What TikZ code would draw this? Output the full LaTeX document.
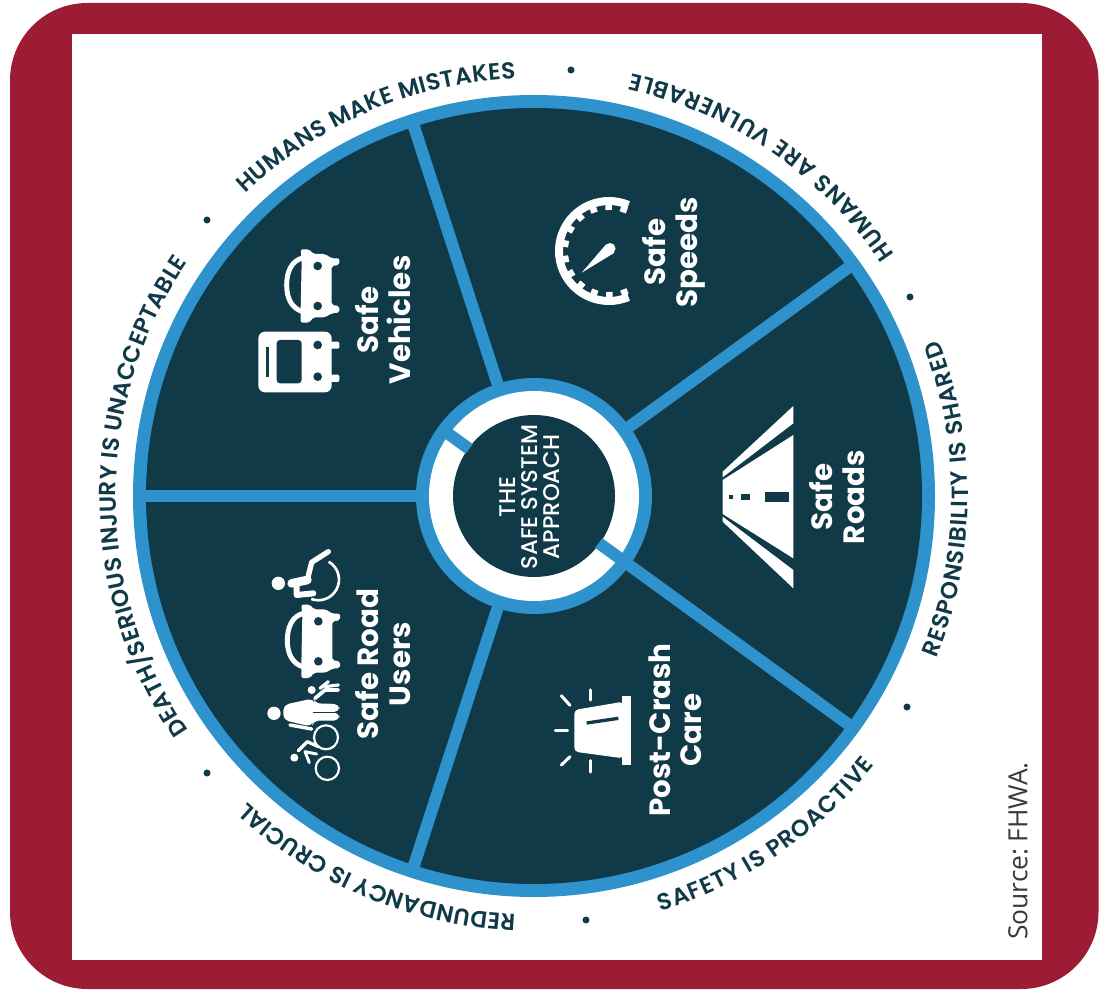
\documentclass[tikz,border=0pt]{standalone}
\usepackage{fontspec}
\setmainfont{Poppins}
\setsansfont{Poppins}
\newfontfamily\sourcefont{Open Sans}
\newfontfamily\hubfont{Poppins Medium}
\newfontfamily\ringfam{Poppins SemiBold}
\usetikzlibrary{decorations.text,calc}
\definecolor{framered}{HTML}{9C1C33}
\definecolor{deepteal}{HTML}{113A48}
\definecolor{ringblue}{HTML}{2E92CC}
\definecolor{sourcegray}{HTML}{3A3A3A}
\newcommand\ringfont{\ringfam\fontsize{17.5}{17.5}\selectfont\color{deepteal}}
\tikzset{
  spoke/.style={ringblue,line width=9pt},
  sectorlabel/.style={rotate=90,align=center,text=white,font=\fontsize{22}{23.5}\selectfont\bfseries,inner sep=0pt},
  ringdot/.style={fill=deepteal},
  holefill/.style={fill=deepteal,draw=none},
  iconline/.style={draw=white,line cap=round,line join=round},
  ringtext/.style={decorate,decoration={text along path,text align={fit to path},text={|\ringfont|#1}}}
}
\newcommand\carglyph{%
  \fill[white,rounded corners=1.5pt] (215,92)--(212,58)--(238,58)--(250,72)--(285,72)--(305,85)--(328,85)--(328,105)--(305,108)--(305,225)--(328,228)--(328,248)--(305,250)--(285,262)--(250,262)--(238,278)--(212,278)--(212,240)--cycle;
  \draw[iconline,line width=3.7pt] (218,84) .. controls (185,92) and (170,125) .. (170,165) .. controls (170,205) and (185,235) .. (218,245);
  \fill[holefill] (263,108) circle[radius=13] (263,228) circle[radius=13];
}
\begin{document}
\begin{tikzpicture}[x=0.75pt,y=0.75pt]
\useasboundingbox (0,0) rectangle (1099,1001);
\fill[white] (0,0) rectangle (1099,1001);
% frame (image y -> 1001-y)
\fill[framered,rounded corners=58pt] (10,12) rectangle (1098.5,998);
\fill[white] (72,41) rectangle (1042,967);
\coordinate (c) at (534,505);
% wheel
\fill[ringblue] (c) circle[radius=401];
\fill[deepteal] (c) circle[radius=388];
\foreach \a in {36,108,180,252,324}{
  \draw[spoke] ($(c)+(\a:110)$) -- ($(c)+(\a:392)$);
}
\fill[ringblue] (c) circle[radius=118];
\fill[white] (c) circle[radius=105];
\fill[deepteal] (c) circle[radius=81];
\foreach \a in {144,-36}{
  \draw[spoke] ($(c)+(\a:80)$) -- ($(c)+(\a:106)$);
}
\node[rotate=90,align=center,text=white,inner sep=0pt,font=\hubfont\fontsize{17}{16.5}\selectfont] (hub) at (530,504) {THE\\SAFE SYSTEM\\APPROACH};
% ring labels
\path[ringtext={HUMANS MAKE MISTAKES}] ($(c)+(133.7:418)$) arc[start angle=133.7,end angle=92.5,radius=418];
\path[ringtext={DEATH/SERIOUS INJURY IS UNACCEPTABLE}] ($(c)+(214.2:418)$) arc[start angle=214.2,end angle=146,radius=418];
\path[ringtext={REDUNDANCY IS CRUCIAL}] ($(c)+(267.5:419)$) arc[start angle=267.5,end angle=226.9,radius=419];
\path[ringtext={HUMANS ARE VULNERABLE}] ($(c)+(33.8:434)$) arc[start angle=33.8,end angle=77,radius=434];
\path[ringtext={RESPONSIBILITY IS SHARED}] ($(c)+(-22:434)$) arc[start angle=-22,end angle=21,radius=434];
\path[ringtext={SAFETY IS PROACTIVE}] ($(c)+(-73:434)$) arc[start angle=-73,end angle=-38.3,radius=434];
% separator dots
\fill[ringdot] (571,931) circle[radius=3.5];
\fill[ringdot] (910,704) circle[radius=3.5];
\fill[ringdot] (907,294) circle[radius=3.5];
\fill[ringdot] (586,81) circle[radius=3.5];
\fill[ringdot] (207,228) circle[radius=3.5];
\fill[ringdot] (207,781) circle[radius=3.5];
% sector labels
\node[sectorlabel] (speeds) at (674,749) {Safe\\Speeds};
\node[sectorlabel] (vehicles) at (383,681) {Safe\\Vehicles};
\node[sectorlabel] (users) at (383,337) {Safe Road\\Users};
\node[sectorlabel] (care) at (675,271) {Post-Crash\\Care};
\node[sectorlabel] (roads) at (837,504) {Safe\\Roads};
\node[rotate=90,anchor=west,inner sep=0pt,text=sourcegray,font=\sourcefont\fontsize{19.8}{21}\selectfont] (source) at (1018,61) {Source:\hspace{-0.12em} FHWA.};
% icons, in image pixels with y downwards
\begin{scope}[shift={(0,1001)},yscale=-1]
  % speedometer
  \coordinate (g) at (609,251);
  \draw[white,line width=6pt] ($(g)+(67:50)$) arc[start angle=67,end angle=293,radius=50];
  \foreach \t in {0,...,11}{
    \draw[white,line width=5pt] ($(g)+(69.5+\t*20:47)$) -- ($(g)+(69.5+\t*20:41)$);
  }
  \fill[white] (581.7,272.7) -- (606,244.5) -- (614,253) -- cycle;
  \fill[white] (610,248.5) circle[radius=5.5];
  % vehicles
  \begin{scope}[shift={(230,230)},scale=1/3]
    \carglyph
    \fill[white,rounded corners=5pt] (85,305) rectangle (305,487);
    \fill[white,rounded corners=1pt] (300,335) rectangle (328,356) (300,434) rectangle (328,456);
    \fill[holefill,rounded corners=2.5pt] (140,330) rectangle (215,460);
    \fill[holefill] (107,350) rectangle (118,440);
    \fill[holefill] (263,345) circle[radius=13] (263,440) circle[radius=13];
  \end{scope}
  % road users
  \begin{scope}[shift={(250,530)},scale=1/3]
    % wheelchair
    \fill[white] (85,160) circle[radius=20];
    \draw[iconline,line width=6.5pt] (125,160) -- (172,150);
    \draw[iconline,line width=4pt] (172,150) -- (185,97) -- (235,65);
    \draw[iconline,line width=4.5pt] (140,165) -- (140,195) -- (190,190);
    \draw[white,line width=2pt] (236,95) arc[start angle=-60,end angle=110,radius=62];
    % car, shifted
    \begin{scope}[shift={(-58,166)}]
      \carglyph
    \end{scope}
    \fill[holefill] (137,310) circle[radius=8];
    % adult
    \fill[white] (72,550) circle[radius=20];
    \fill[white,rounded corners=4pt] (100,525) -- (190,505) -- (195,520) -- (268,522) -- (268,546) -- (195,546) -- (268,548) -- (268,572) -- (190,572) -- (185,590) -- (100,570) -- cycle;
    \fill[holefill] (190,545) rectangle (270,549);
    \draw[iconline,line width=2.6pt] (120,585) -- (185,597);
    % child
    \fill[white] (185,480) circle[radius=12];
    \draw[iconline,line width=2.8pt] (195,505) -- (225,480) -- (265,480);
    \draw[iconline,line width=2.4pt] (210,475) -- (235,455);
    \draw[iconline,line width=2.4pt] (225,470) -- (265,465);
    % cyclist
    \draw[white,line width=1.6pt] (228,622) circle[radius=36];
    \draw[white,line width=1.6pt] (232,715) circle[radius=35];
    \fill[white] (133,683) circle[radius=12];
    \draw[iconline,line width=2.4pt] (145,662) -- (172,635) -- (205,650);
    \draw[iconline,line width=2.2pt] (178,698) -- (165,665) -- (200,672);
  \end{scope}
  % alert light
  \begin{scope}[shift={(530,630)},scale=1/3]
    \fill[white,rounded corners=3pt] (133,240) -- (280,215) -- (280,385) -- (133,365) -- cycle;
    \fill[white] (276,197) rectangle (302,405);
    \draw[deepteal,line width=2.5pt] (170,279) -- (265,265);
    \draw[iconline,line width=2.3pt] (76,302) -- (113,302);
    \draw[iconline,line width=2.3pt] (94,197) -- (120,226);
    \draw[iconline,line width=2.3pt] (182,180) -- (182,210);
    \draw[iconline,line width=2.3pt] (182,392) -- (182,426);
    \draw[iconline,line width=2.3pt] (94,405) -- (120,380);
  \end{scope}
  % road
  \begin{scope}[shift={(700,390)},scale=1/3]
    \fill[white] (68,270) -- (280,135) -- (280,505) -- (68,372) -- cycle;
    \fill[white] (68,262) -- (68,245) -- (280,48) -- (280,100) -- cycle;
    \fill[white] (68,380) -- (280,540) -- (280,595) -- (68,395) -- cycle;
    \fill[holefill] (194,306) rectangle (268,335);
    \fill[holefill] (122,311) rectangle (149,329);
    \fill[holefill] (86,315) rectangle (100,327);
  \end{scope}
\end{scope}
\end{tikzpicture}
\end{document}
